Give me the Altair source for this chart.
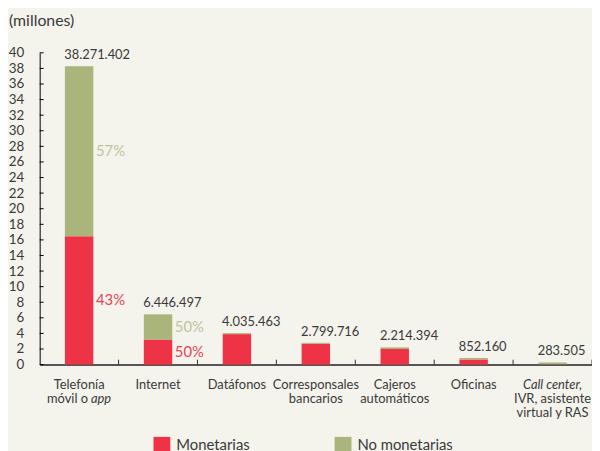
import altair as alt
import pandas as pd

# ---------------- data ----------------
categories = [
    "Telefonía móvil o app",
    "Internet",
    "Datáfonos",
    "Corresponsales bancarios",
    "Cajeros automáticos",
    "Oficinas",
    "Call center, IVR, asistente virtual y RAS",
]
# x tick labels, line by line, as (text, style) segments; "i" = italic
x_label_lines = [
    [[("Telefonía", "n")], [("móvil o", "n"), ("app", "i")]],
    [[("Internet", "n")]],
    [[("Datáfonos", "n")]],
    [[("Corresponsales", "n")], [("bancarios", "n")]],
    [[("Cajeros", "n")], [("automáticos", "n")]],
    [[("Oficinas", "n")]],
    [[("Call center,", "i")], [("IVR, asistente", "n")], [("virtual y RAS", "n")]],
]
monetarias = [16.46, 3.22, 3.91, 2.68, 2.00, 0.66, 0.04]       # millones
no_monetarias = [21.81, 3.23, 0.13, 0.12, 0.21, 0.19, 0.24]    # millones
totales = [38271402, 6446497, 4035463, 2799716, 2214394, 852160, 283505]
series = ["Monetarias", "No monetarias"]
pct_categories = ["Telefonía móvil o app", "Internet"]
pct_monetarias = ["43%", "50%"]
pct_no_monetarias = ["57%", "50%"]
y_ticks = [0, 2, 4, 6, 8, 10, 12, 14, 16, 18, 20, 22, 24, 26, 28, 30, 32, 34, 36, 38, 40]

RED = "#ef3347"
GREEN = "#aab57b"
RED_TXT = "#e8445a"
GREEN_TXT = "#bfc49c"
TXT = "#3a3a3a"
BG = "#f4f3ec"
FONT = "Lato"

# ---------------- tables ----------------
rows = []
for c, m, n in zip(categories, monetarias, no_monetarias):
    rows.append({"cat": c, "serie": series[0], "val": m})
    rows.append({"cat": c, "serie": series[1], "val": n})
bars_df = pd.DataFrame(rows)

tot_df = pd.DataFrame({
    "cat": categories,
    "tot": [t / 1e6 for t in totales],
    "label": [f"{t:,}".replace(",", ".") for t in totales],
})

pct_rows = []
for c, pm, pn in zip(pct_categories, pct_monetarias, pct_no_monetarias):
    i = categories.index(c)
    m, n = monetarias[i], no_monetarias[i]
    pct_rows.append({"cat": c, "val": m / 2, "txt": pm, "serie": series[0]})
    pct_rows.append({"cat": c, "val": m + n / 2, "txt": pn, "serie": series[1]})
pct_df = pd.DataFrame(pct_rows)

lab_rows = []
for c, lines in zip(categories, x_label_lines):
    for li, segs in enumerate(lines):
        if len(segs) == 1:
            lab_rows.append({"cat": c, "line": li, "txt": segs[0][0], "style": segs[0][1], "part": "full"})
        else:
            lab_rows.append({"cat": c, "line": li, "txt": segs[0][0], "style": segs[0][1], "part": "left"})
            lab_rows.append({"cat": c, "line": li, "txt": segs[1][0], "style": segs[1][1], "part": "right"})
lab_df = pd.DataFrame(lab_rows)

ticks_df = pd.DataFrame({"val": y_ticks})
cat_df = pd.DataFrame({"cat": categories})

W, H = 558, 315

xscale = alt.Scale(domain=categories, paddingInner=0, paddingOuter=0)
yscale = alt.Scale(domain=[0, 40], nice=False)

x_axis = alt.Axis(
    labels=False, ticks=False, domainColor="#555555", domainWidth=2, title=None,
)
y_axis = alt.Axis(
    values=y_ticks, ticks=False, domainColor="#000000", domainWidth=1,
    labelFontSize=13.5, labelColor=TXT, labelFont=FONT, labelPadding=16,
    grid=False, labelOverlap=False, title=None,
)


def X(**kw):
    return alt.X("cat:N", sort=categories, scale=xscale, axis=x_axis, title=None, **kw)


def Y(field="val:Q", **kw):
    return alt.Y(field, scale=yscale, axis=y_axis, title=None, **kw)


bars = alt.Chart(bars_df).mark_bar(width=alt.RelativeBandSize(0.36)).encode(
    x=X(),
    y=Y(stack="zero"),
    color=alt.Color(
        "serie:N",
        scale=alt.Scale(domain=series, range=[RED, GREEN]),
        legend=alt.Legend(
            title=None, orient="none", legendX=115, legendY=388,
            direction="horizontal", symbolType="square", symbolSize=289,
            symbolStrokeWidth=0, labelFontSize=15, labelFont=FONT,
            labelColor=TXT, columnPadding=63, gridAlign="all", labelOffset=6,
        ),
    ),
    order=alt.Order("serie:N", sort="ascending"),
)

totals = alt.Chart(tot_df).mark_text(
    align="left", baseline="alphabetic", dx=-15, dy=-7, fontSize=13, font=FONT, color=TXT
).encode(
    x=X(),
    y=Y("tot:Q"),
    text="label:N",
)

pcts = alt.Chart(pct_df).mark_text(
    align="left", baseline="middle", dx=17, fontSize=15, font=FONT
).encode(
    x=X(),
    y=Y(),
    text="txt:N",
    color=alt.Color("serie:N", scale=alt.Scale(domain=series, range=[RED_TXT, GREEN_TXT]), legend=None),
)

yticks = alt.Chart(ticks_df).mark_rule(color="#000000", strokeWidth=1).encode(
    y=Y(),
    x=alt.value(0),
    x2=alt.value(4),
)

xticks = alt.Chart(cat_df).mark_rule(color="#333333", strokeWidth=1).encode(
    x=X(bandPosition=1),
    y=alt.value(H),
    y2=alt.value(H - 5),
)

# x tick labels (text layers so that italics can be mixed in)
SPLIT = 9
GAP = 3
label_layers = []
for li in range(3):
    for style in ["n", "i"]:
        for part, align, dx in [("full", "center", 0), ("left", "right", SPLIT), ("right", "left", SPLIT + GAP)]:
            sub = lab_df[(lab_df.line == li) & (lab_df["style"] == style) & (lab_df.part == part)]
            if len(sub) == 0:
                continue
            label_layers.append(
                alt.Chart(sub).mark_text(
                    align=align, baseline="middle", dx=dx, dy=21 + 14 * li,
                    fontSize=13, font=FONT, color=TXT,
                    fontStyle="italic" if style == "i" else "normal",
                ).encode(x=X(), y=alt.value(H), text="txt:N")
            )

title = alt.Chart(pd.DataFrame({"t": ["(millones)"]})).mark_text(
    align="left", baseline="alphabetic", fontSize=16, font=FONT, color=TXT
).encode(
    text="t:N",
    x=alt.value(-31),
    y=alt.value(-27),
)

chart = alt.layer(bars, totals, pcts, yticks, xticks, *label_layers, title).resolve_scale(
    color="independent"
).properties(
    width=W, height=H,
    autosize=alt.AutoSizeParams(type="none"),
    padding={"left": 32, "top": 43, "right": 0, "bottom": 85},
    background=BG,
).configure_view(stroke=None)

chart.save("out.html", embed_options={"renderer": "svg", "actions": False})
